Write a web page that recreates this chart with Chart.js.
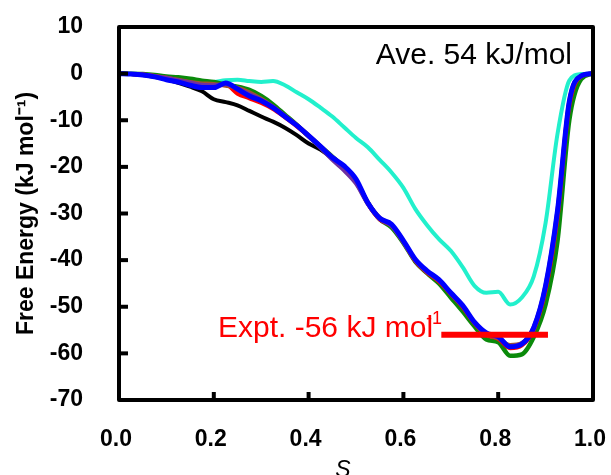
<!DOCTYPE html>
<html>
<head>
<meta charset="utf-8">
<script src="https://cdn.jsdelivr.net/npm/chart.js@4.4.0/dist/chart.umd.min.js"></script>
<style>
  body { margin: 0; background: #fff; }
</style>
</head>
<body>
<canvas id="myChart" width="611" height="475"></canvas>
<script>
// reaction coordinate S
var s = [0, 0.025, 0.05, 0.075, 0.1, 0.125, 0.15, 0.175, 0.2, 0.225,
         0.25, 0.275, 0.3, 0.325, 0.35, 0.375, 0.4, 0.425, 0.45, 0.475,
         0.5, 0.525, 0.55, 0.575, 0.6, 0.625, 0.65, 0.675, 0.7, 0.725,
         0.75, 0.775, 0.8, 0.825, 0.85, 0.875, 0.9, 0.925, 0.95, 0.975, 1.0];

var blue   = [0, -0.1, -0.3, -0.7, -1.3, -1.8, -2.5, -3.0, -3.0, -2.0,
              -3.3, -4.8, -5.8, -7.3, -9.2, -11.1, -13.3, -15.6, -18.0, -19.8,
              -22.6, -27.7, -31.0, -32.3, -35.8, -39.8, -42.3, -44.2, -47.0, -49.7,
              -53.3, -55.6, -56.4, -58.6, -58.0, -54.5, -45.5, -29.5, -6.0, -0.5, 0];
var purple = [0, -0.1, -0.2, -0.5, -0.9, -1.4, -1.9, -2.4, -2.5, -2.3,
              -3.2, -4.4, -5.6, -7.2, -9.1, -11.2, -13.5, -15.9, -18.5, -20.8,
              -23.6, -28.0, -31.2, -32.7, -36.2, -40.1, -42.6, -44.4, -47.2, -49.9,
              -53.4, -55.8, -56.6, -58.4, -57.8, -54.3, -45.3, -29.3, -5.8, -0.5, 0];
var brown  = [0, -0.1, -0.2, -0.5, -0.9, -1.3, -1.8, -2.1, -2.2, -2.6,
              -3.0, -4.0, -5.4, -7.1, -9.0, -11.0, -13.2, -15.5, -17.9, -19.9,
              -22.8, -27.6, -30.9, -32.5, -36.0, -39.9, -42.5, -44.4, -47.1, -49.8,
              -53.5, -55.9, -56.8, -58.2, -57.8, -54.8, -46.0, -30.5, -6.5, -0.6, 0];
var red    = [0, -0.1, -0.2, -0.5, -0.9, -1.4, -1.9, -2.4, -2.6, -2.4,
              -4.3, -5.3, -6.3, -7.6, -9.4, -11.3, -13.4, -15.6, -18.1, -20.0,
              -22.9, -27.9, -31.3, -32.6, -36.1, -40.2, -42.7, -44.6, -47.3, -50.1,
              -53.6, -56.0, -56.9, -58.9, -58.3, -55.0, -46.5, -31.0, -7.0, -0.6, 0];
var green  = [0, 0, -0.1, -0.3, -0.6, -0.8, -1.1, -1.5, -1.8, -2.4,
              -2.8, -3.5, -4.8, -6.6, -8.8, -11.0, -13.4, -15.6, -17.8, -20.2,
              -23.2, -27.8, -31.2, -33.0, -36.3, -40.3, -42.8, -45.0, -48.0, -51.0,
              -54.2, -57.0, -57.6, -60.5, -60.2, -56.5, -49.5, -36.0, -10.0, -1.2, 0];
var black  = [0, -0.1, -0.3, -0.7, -1.2, -2.0, -2.8, -3.8, -5.5, -6.1,
              -6.8, -8.0, -9.2, -10.3, -11.6, -13.2, -15.0, -16.3, -18.2, -20.1,
              -23.0, -27.6, -31.0, -32.4, -35.9, -39.9, -42.4, -44.3, -47.1, -49.8,
              -53.4, -55.7, -56.5, -58.5, -57.9, -54.6, -45.8, -30.0, -6.2, -0.5, 0];
var cyan   = [0, -0.1, -0.2, -0.5, -0.9, -1.3, -1.7, -2.0, -1.8, -1.4,
              -1.3, -1.6, -1.8, -1.6, -2.5, -4.0, -5.5, -7.3, -9.2, -11.5,
              -13.8, -15.8, -18.5, -21.2, -24.5, -29.0, -32.5, -35.5, -38.0, -41.5,
              -45.5, -47.0, -46.8, -49.5, -48.0, -43.5, -32.0, -13.0, -1.5, -0.1, 0];

// experimental value bar
var exptS = [0.68, 0.905];
var exptG = [-56, -56];

var xTicks = [0, 0.2, 0.4, 0.6, 0.8, 1.0];
var yTicks = [10, 0, -10, -20, -30, -40, -50, -60, -70];

function pts(xs, ys) {
  var out = [];
  for (var i = 0; i < xs.length; i++) out.push({x: xs[i], y: ys[i]});
  return out;
}

function line(data, color, w) {
  return {
    data: pts(s, data),
    borderColor: color,
    borderWidth: w,
    pointRadius: 0,
    cubicInterpolationMode: 'monotone',
    fill: false
  };
}

var FONT = "'Liberation Sans', Arial, sans-serif";

var frame = {
  id: 'frame',
  afterDatasetsDraw: function(chart) {
    var ctx = chart.ctx, a = chart.chartArea;
    var x = chart.scales.x, y = chart.scales.y;
    ctx.save();
    ctx.strokeStyle = '#000';
    ctx.lineWidth = 4;
    ctx.lineJoin = 'round';
    ctx.strokeRect(a.left, a.top, a.right - a.left, a.bottom - a.top);
    for (var i = 1; i < xTicks.length - 1; i++) {
      var px = x.getPixelForValue(xTicks[i]);
      ctx.beginPath(); ctx.moveTo(px, a.bottom); ctx.lineTo(px, a.bottom - 8); ctx.stroke();
    }
    for (var j = 1; j < yTicks.length - 1; j++) {
      var py = y.getPixelForValue(yTicks[j]);
      ctx.beginPath(); ctx.moveTo(a.left, py); ctx.lineTo(a.left + 9, py); ctx.stroke();
    }

    // annotations
    ctx.fillStyle = '#000';
    ctx.font = '30px ' + FONT;
    ctx.textAlign = 'right';
    ctx.textBaseline = 'alphabetic';
    ctx.fillText('Ave. 54 kJ/mol', a.right - 21, a.top + 37);

    ctx.fillStyle = '#ff0000';
    ctx.textAlign = 'left';
    var t = 'Expt. -56 kJ mol';
    var tx = 218, ty = y.getPixelForValue(-56) + 2;
    ctx.fillText(t, tx, ty);
    var tw = ctx.measureText(t).width;
    ctx.font = '18px ' + FONT;
    ctx.fillText('-1', tx + tw - 7, ty - 13);

    // x axis title
    ctx.fillStyle = '#000';
    ctx.font = 'italic 23px ' + FONT;
    ctx.textAlign = 'center';
    ctx.fillText('S', 343, 477);
    ctx.restore();
  }
};

var ctx = document.getElementById('myChart');
var chart = new Chart(ctx, {
  type: 'line',
  data: {
    datasets: [
      {
        data: pts(exptS, exptG),
        borderColor: '#ff0000',
        borderWidth: 6,
        pointRadius: 0,
        tension: 0
      },
      line(blue, '#0000ff', 5),
      line(purple, '#7030a0', 4),
      line(brown, '#a0522d', 4),
      line(red, '#ff0000', 4),
      line(green, '#0a8a0a', 4.5),
      line(black, '#000000', 4),
      line(cyan, '#22f0cc', 4)
    ]
  },
  options: {
    responsive: false,
    animation: false,
    devicePixelRatio: 1,
    layout: { padding: { left: 0, right: 18, top: 27, bottom: 0 } },
    plugins: { legend: { display: false }, tooltip: { enabled: false } },
    scales: {
      x: {
        type: 'linear',
        min: 0, max: 1,
        grid: { display: false, drawTicks: false },
        border: { display: false },
        afterBuildTicks: function(sc) { sc.ticks = xTicks.map(function(v) { return {value: v}; }); },
        afterFit: function(sc) {
          sc.height = 75;
          sc.paddingLeft = 0; sc.paddingRight = 0;
        },
        ticks: {
          padding: 26,
          labelOffset: -3,
          color: '#000',
          font: { family: FONT, size: 23, weight: 'bold' },
          callback: function(v) { return v.toFixed(1); }
        }
      },
      y: {
        min: -70, max: 10,
        grid: { display: false, drawTicks: false },
        border: { display: false },
        afterBuildTicks: function(sc) { sc.ticks = yTicks.map(function(v) { return {value: v}; }); },
        afterFit: function(sc) {
          sc.width = 119;
          sc.paddingTop = 0; sc.paddingBottom = 0;
        },
        ticks: {
          padding: 36,
          color: '#000',
          font: { family: FONT, size: 23, weight: 'bold' }
        },
        title: {
          display: true,
          text: 'Free Energy (kJ mol\u207B\u00B9)',
          color: '#000',
          font: { family: FONT, size: 23, weight: 'bold' },
          padding: { top: 13, bottom: 0 }
        }
      }
    }
  },
  plugins: [frame]
});
</script>
</body>
</html>
